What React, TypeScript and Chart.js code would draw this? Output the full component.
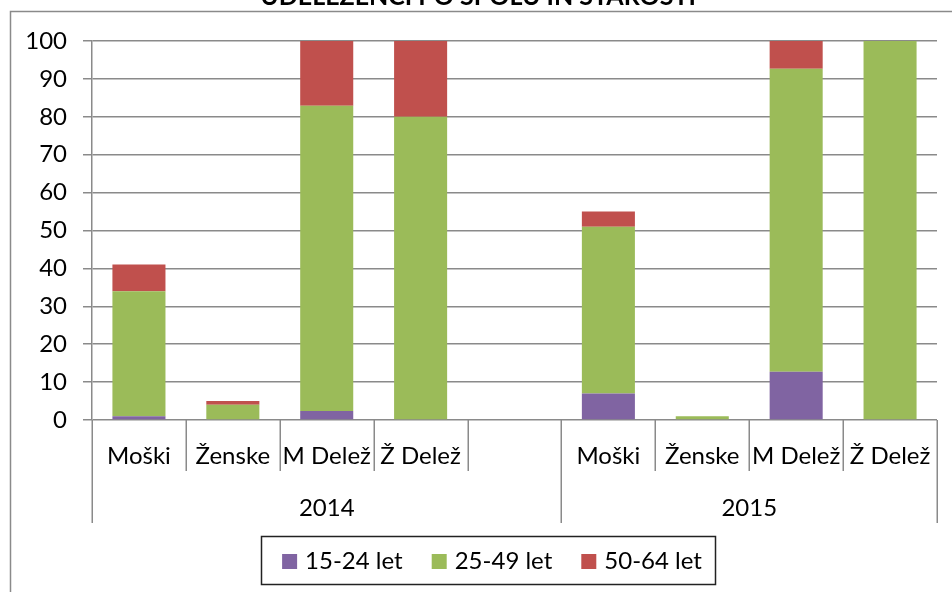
import React, { useEffect, useRef } from "react";
import { Chart, registerables } from "chart.js";

Chart.register(...registerables);

const TITLE = "UDELEŽENCI PO SPOLU IN STAROSTI";
const categories = ["Moški", "Ženske", "M Delež", "Ž Delež", "", "Moški", "Ženske", "M Delež", "Ž Delež"];
const years = ["2014", "2015"];
const groupSizes = [5, 4];
const seriesLabels = ["15-24 let", "25-49 let", "50-64 let"];
const age15to24 = [1, 0, 2.4, 0, null, 7, 0, 12.7, 0];
const age25to49 = [33, 4, 80.5, 80, null, 44, 1, 80, 100];
const age50to64 = [7, 1, 17.1, 20, null, 4, 0, 7.3, 0];
const yTicks = [0, 10, 20, 30, 40, 50, 60, 70, 80, 90, 100];
const colors = ["#8064A2", "#9BBB59", "#C0504D"];

const FONT = "Lato, 'Open Sans', sans-serif";
const LINE = "#8a8a8a";

const customPlugin = {
  id: "customDecor",
  beforeDraw(chart: any) {
    const ctx = chart.ctx;
    ctx.save();
    ctx.fillStyle = "#fff";
    ctx.fillRect(0, 0, chart.width, chart.height);
    ctx.strokeStyle = LINE;
    ctx.lineWidth = 1.5;
    ctx.beginPath();
    ctx.moveTo(10.5, chart.height + 5);
    ctx.lineTo(10.5, 11.5);
    ctx.lineTo(chart.width + 5, 11.5);
    ctx.stroke();
    ctx.restore();
  },
  afterDraw(chart: any) {
    const ctx = chart.ctx;
    const xs = chart.scales.x;
    const area = chart.chartArea;
    const n = categories.length;
    const b = (k: number) => xs.getPixelForValue(k - 0.5);
    ctx.save();
    // separators
    const groupEdges = [0];
    let acc = 0;
    groupSizes.forEach((g) => { acc += g; groupEdges.push(acc); });
    ctx.strokeStyle = LINE;
    ctx.lineWidth = 1.5;
    for (let k = 0; k <= n; k++) {
      const x = Math.round(b(k)) + 0.25;
      const long = groupEdges.includes(k);
      ctx.beginPath();
      ctx.moveTo(x, area.bottom);
      ctx.lineTo(x, long ? 523 : 471);
      ctx.stroke();
    }
    // category labels
    ctx.fillStyle = "#000";
    ctx.font = `24px ${FONT}`;
    ctx.textAlign = "center";
    ctx.textBaseline = "middle";
    categories.forEach((c, i) => {
      if (c) ctx.fillText(c, xs.getPixelForValue(i), 456);
    });
    // years
    years.forEach((y, gi) => {
      const cx = (b(groupEdges[gi]) + b(groupEdges[gi + 1])) / 2;
      ctx.fillText(y, cx, 508);
    });
    // title (cut off at top)
    ctx.font = `bold 25px ${FONT}`;
    ctx.textBaseline = "alphabetic";
    ctx.fillText(TITLE, 478, 5);
    // legend
    ctx.strokeStyle = "#222";
    ctx.lineWidth = 1.5;
    ctx.strokeRect(261.5, 536.5, 454, 48);
    ctx.font = `24px ${FONT}`;
    ctx.textAlign = "left";
    ctx.textBaseline = "middle";
    const sq = 15, gap = 8, between = 29;
    const widths = chart.data.datasets.map((d: any) => ctx.measureText(d.label).width);
    const total = widths.reduce((a: number, w: number) => a + sq + gap + w, 0) + between * (widths.length - 1);
    let x = 492 - total / 2;
    chart.data.datasets.forEach((d: any, i: number) => {
      ctx.fillStyle = d.backgroundColor;
      ctx.fillRect(x, 554, sq, sq);
      ctx.fillStyle = "#000";
      ctx.fillText(d.label, x + sq + gap, 561);
      x += sq + gap + widths[i] + between;
    });
    ctx.restore();
  },
};

export default function App() {
  const ref = useRef<HTMLCanvasElement>(null);
  useEffect(() => {
    if (!ref.current) return;
    const series = [age15to24, age25to49, age50to64];
    const chart = new Chart(ref.current, {
      type: "bar",
      data: {
        labels: categories,
        datasets: series.map((data, i) => ({
          label: seriesLabels[i],
          data,
          backgroundColor: colors[i],
          borderWidth: 0,
          barPercentage: 0.565,
          categoryPercentage: 1,
        })),
      },
      options: {
        responsive: false,
        animation: false,
        layout: { padding: { left: 0, top: 41, right: 15, bottom: 172 } },
        plugins: { legend: { display: false }, title: { display: false }, tooltip: { enabled: false } },
        scales: {
          x: { stacked: true, display: false },
          y: {
            stacked: true,
            min: 0,
            max: 100,
            afterBuildTicks: (s: any) => { s.ticks = yTicks.map((v) => ({ value: v })); },
            afterFit: (s: any) => { s.width = 92; },
            ticks: { color: "#000", font: { family: FONT, size: 24 }, padding: 16 },
            grid: { color: LINE, lineWidth: 1.5, tickLength: 9, drawTicks: true },
            border: { color: LINE, width: 1.5 },
          },
        },
      },
      plugins: [customPlugin],
    });
    return () => chart.destroy();
  }, []);
  return (
    <div style={{ position: "absolute", left: 0, top: 0, width: 952, height: 592 }}>
      <canvas ref={ref} width={952} height={592} style={{ display: "block", width: 952, height: 592 }} />
    </div>
  );
}
